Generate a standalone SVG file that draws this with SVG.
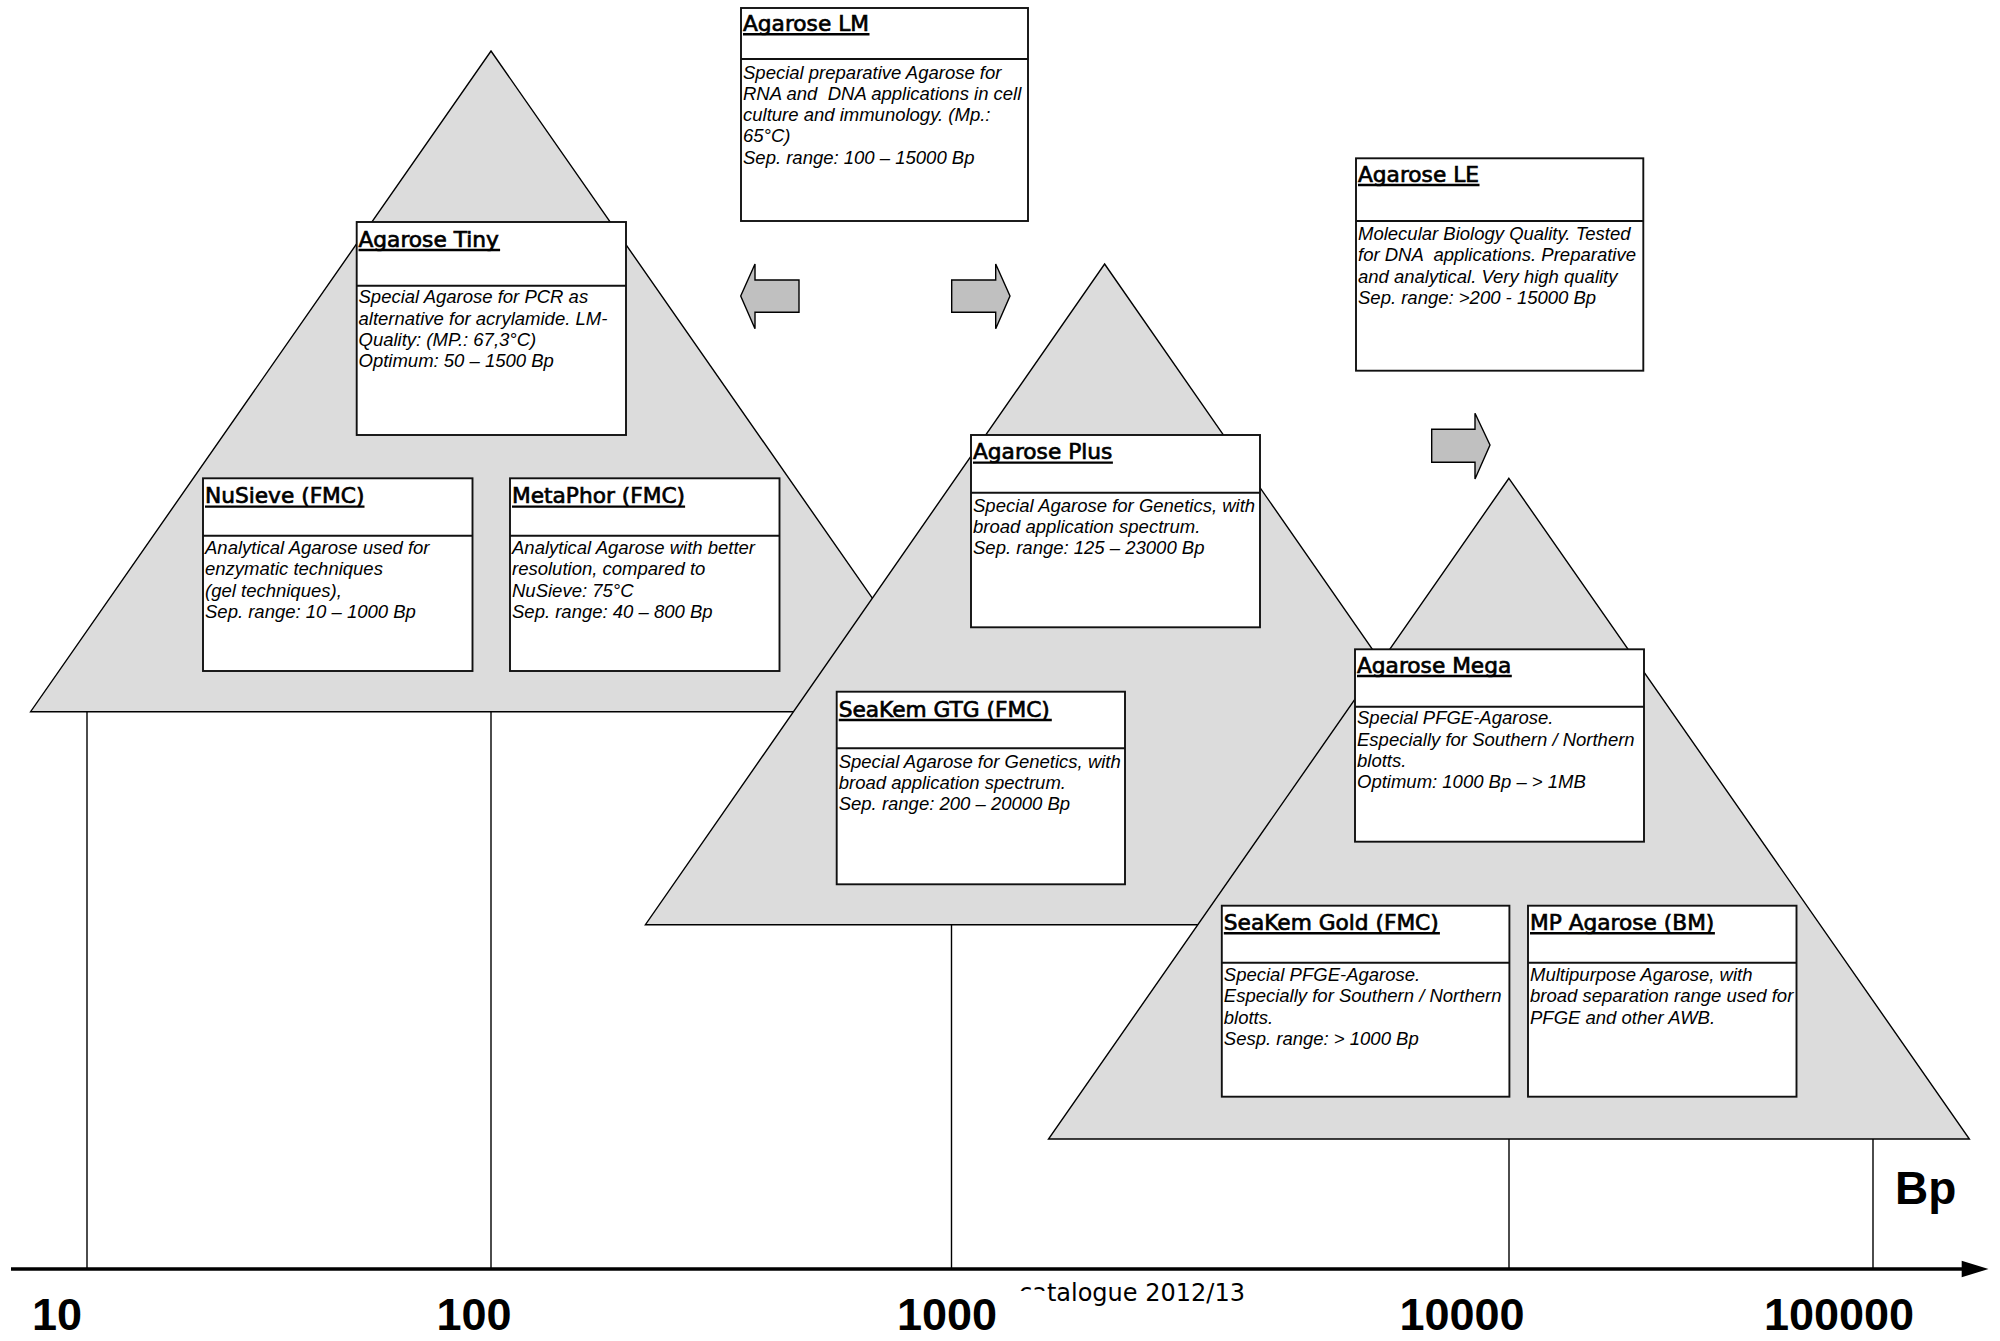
<svg xmlns="http://www.w3.org/2000/svg" width="2000" height="1341" viewBox="0 0 2000 1341">
<style>
.tri{fill:#dcdcdc;stroke:#000;stroke-width:1.4;stroke-linejoin:miter}
.box{fill:#fff;stroke:#111;stroke-width:1.9}
.div{stroke:#111;stroke-width:1.9}
.title{font-family:"DejaVu Sans",sans-serif;font-size:21.7px;fill:#000;stroke:#000;stroke-width:0.7}
.ul{stroke:#000;stroke-width:2.4}
.body{font-family:"Liberation Sans",Arial,sans-serif;font-style:italic;font-size:18.5px;fill:#000;white-space:pre}
.blk{fill:#c0c0c0;stroke:#000;stroke-width:1.4;stroke-linejoin:miter}
.tick{stroke:#000;stroke-width:1.4}
.axis{stroke:#000;stroke-width:3.6}
.lbl{font-family:"Liberation Sans",Arial,sans-serif;font-weight:bold;font-size:45px;fill:#000;text-anchor:middle}
.bp{font-family:"Liberation Sans",Arial,sans-serif;font-weight:bold;font-size:46px;fill:#000}
.foot{font-family:"DejaVu Sans",sans-serif;font-size:24px;fill:#000}
</style>
<rect width="2000" height="1341" fill="#fff"/>

<g id="triangles">
<polygon class="tri" points="491,51 951.5,711.7 30.6,711.7"/>
<polygon class="tri" points="1104.6,264 1563.8,924.7 645.4,924.7"/>
<polygon class="tri" points="1508.9,478.3 1969.4,1139 1048.5,1139"/>
</g>

<g id="connectors">
<line class="tick" x1="87" y1="711.7" x2="87" y2="1269"/>
<line class="tick" x1="491" y1="711.7" x2="491" y2="1269"/>
<line class="tick" x1="951.5" y1="924.7" x2="951.5" y2="1269"/>
<line class="tick" x1="1509" y1="1139" x2="1509" y2="1269"/>
<line class="tick" x1="1873" y1="1139" x2="1873" y2="1269"/>
<line class="axis" x1="11" y1="1269" x2="1963" y2="1269"/>
<polygon points="1961.7,1260.7 1988.5,1269 1961.7,1277.3" fill="#000"/>
</g>

<g id="block-arrows">
<polygon class="blk" points="740.7,296 755,264 755,280 799,280 799,312.3 755,312.3 755,328.7"/>
<polygon class="blk" points="1010,296 995.7,264 995.7,280 951.7,280 951.7,312.3 995.7,312.3 995.7,328.7"/>
<polygon class="blk" points="1490,445 1475,413.3 1475,429.3 1431.7,429.3 1431.7,462.3 1475,462.3 1475,479"/>
</g>

<g id="agarose-lm">
<rect class="box" x="741" y="8" width="287" height="213"/>
<line class="div" x1="741" y1="59" x2="1028" y2="59"/>
<text class="title" x="743" y="31">Agarose LM</text>
<line class="ul" x1="743" y1="34.3" x2="869.5" y2="34.3"/>
<text class="body" x="743" y="78.5" xml:space="preserve">Special preparative Agarose for</text>
<text class="body" x="743" y="99.8" xml:space="preserve">RNA and  DNA applications in cell</text>
<text class="body" x="743" y="121.1" xml:space="preserve">culture and immunology. (Mp.:</text>
<text class="body" x="743" y="142.4" xml:space="preserve">65°C)</text>
<text class="body" x="743" y="163.7" xml:space="preserve">Sep. range: 100 – 15000 Bp</text>
</g>

<g id="agarose-tiny">
<rect class="box" x="356.7" y="222" width="269.3" height="213"/>
<line class="div" x1="356.7" y1="285.7" x2="626" y2="285.7"/>
<text class="title" x="358.5" y="246.7">Agarose Tiny</text>
<line class="ul" x1="358.5" y1="250" x2="500.1" y2="250"/>
<text class="body" x="358.5" y="303.3" xml:space="preserve">Special Agarose for PCR as</text>
<text class="body" x="358.5" y="324.6" xml:space="preserve">alternative for acrylamide. LM-</text>
<text class="body" x="358.5" y="345.9" xml:space="preserve">Quality: (MP.: 67,3°C)</text>
<text class="body" x="358.5" y="367.2" xml:space="preserve">Optimum: 50 – 1500 Bp</text>
</g>

<g id="nusieve">
<rect class="box" x="203" y="478.3" width="269.5" height="192.7"/>
<line class="div" x1="203" y1="535.7" x2="472.5" y2="535.7"/>
<text class="title" x="205" y="503.3">NuSieve (FMC)</text>
<line class="ul" x1="205" y1="506.6" x2="364.5" y2="506.6"/>
<text class="body" x="205" y="554" xml:space="preserve">Analytical Agarose used for</text>
<text class="body" x="205" y="575.3" xml:space="preserve">enzymatic techniques</text>
<text class="body" x="205" y="596.6" xml:space="preserve">(gel techniques),</text>
<text class="body" x="205" y="617.9" xml:space="preserve">Sep. range: 10 – 1000 Bp</text>
</g>

<g id="metaphor">
<rect class="box" x="510" y="478.3" width="269.5" height="192.7"/>
<line class="div" x1="510" y1="535.7" x2="779.5" y2="535.7"/>
<text class="title" x="512" y="503.3">MetaPhor (FMC)</text>
<line class="ul" x1="512" y1="506.6" x2="685.1" y2="506.6"/>
<text class="body" x="512" y="554" xml:space="preserve">Analytical Agarose with better</text>
<text class="body" x="512" y="575.3" xml:space="preserve">resolution, compared to</text>
<text class="body" x="512" y="596.6" xml:space="preserve">NuSieve: 75°C</text>
<text class="body" x="512" y="617.9" xml:space="preserve">Sep. range: 40 – 800 Bp</text>
</g>

<g id="agarose-le">
<rect class="box" x="1356" y="158.3" width="287.3" height="212.4"/>
<line class="div" x1="1356" y1="221" x2="1643.3" y2="221"/>
<text class="title" x="1358" y="181.7">Agarose LE</text>
<line class="ul" x1="1358" y1="185" x2="1479.5" y2="185"/>
<text class="body" x="1358" y="240" xml:space="preserve">Molecular Biology Quality. Tested</text>
<text class="body" x="1358" y="261.3" xml:space="preserve">for DNA  applications. Preparative</text>
<text class="body" x="1358" y="282.6" xml:space="preserve">and analytical. Very high quality</text>
<text class="body" x="1358" y="303.9" xml:space="preserve">Sep. range: &gt;200 - 15000 Bp</text>
</g>

<g id="agarose-plus">
<rect class="box" x="971" y="435" width="289" height="192.3"/>
<line class="div" x1="971" y1="492.7" x2="1260" y2="492.7"/>
<text class="title" x="973" y="459.3">Agarose Plus</text>
<line class="ul" x1="973" y1="462.6" x2="1112.9" y2="462.6"/>
<text class="body" x="973" y="511.5" xml:space="preserve">Special Agarose for Genetics, with</text>
<text class="body" x="973" y="532.8" xml:space="preserve">broad application spectrum.</text>
<text class="body" x="973" y="554.1" xml:space="preserve">Sep. range: 125 – 23000 Bp</text>
</g>

<g id="seakem-gtg">
<rect class="box" x="836.7" y="691.7" width="288.3" height="192.6"/>
<line class="div" x1="836.7" y1="748.3" x2="1125" y2="748.3"/>
<text class="title" x="838.7" y="716.7">SeaKem GTG (FMC)</text>
<line class="ul" x1="838.7" y1="720" x2="1051.8" y2="720"/>
<text class="body" x="838.7" y="767.7" xml:space="preserve">Special Agarose for Genetics, with</text>
<text class="body" x="838.7" y="789" xml:space="preserve">broad application spectrum.</text>
<text class="body" x="838.7" y="810.3" xml:space="preserve">Sep. range: 200 – 20000 Bp</text>
</g>

<g id="agarose-mega">
<rect class="box" x="1355" y="649.3" width="289" height="192.4"/>
<line class="div" x1="1355" y1="706.7" x2="1644" y2="706.7"/>
<text class="title" x="1357" y="672.7">Agarose Mega</text>
<line class="ul" x1="1357" y1="676" x2="1511.8" y2="676"/>
<text class="body" x="1357" y="724.3" xml:space="preserve">Special PFGE-Agarose.</text>
<text class="body" x="1357" y="745.6" xml:space="preserve">Especially for Southern / Northern</text>
<text class="body" x="1357" y="766.9" xml:space="preserve">blotts.</text>
<text class="body" x="1357" y="788.2" xml:space="preserve">Optimum: 1000 Bp – &gt; 1MB</text>
</g>

<g id="seakem-gold">
<rect class="box" x="1221.8" y="905.7" width="287.6" height="191"/>
<line class="div" x1="1221.8" y1="962.7" x2="1509.4" y2="962.7"/>
<text class="title" x="1223.8" y="930">SeaKem Gold (FMC)</text>
<line class="ul" x1="1223.8" y1="933.3" x2="1439.9" y2="933.3"/>
<text class="body" x="1223.8" y="981" xml:space="preserve">Special PFGE-Agarose.</text>
<text class="body" x="1223.8" y="1002.3" xml:space="preserve">Especially for Southern / Northern</text>
<text class="body" x="1223.8" y="1023.6" xml:space="preserve">blotts.</text>
<text class="body" x="1223.8" y="1044.9" xml:space="preserve">Sesp. range: &gt; 1000 Bp</text>
</g>

<g id="mp-agarose">
<rect class="box" x="1528" y="905.7" width="268.5" height="191"/>
<line class="div" x1="1528" y1="962.7" x2="1796.5" y2="962.7"/>
<text class="title" x="1530" y="930">MP Agarose (BM)</text>
<line class="ul" x1="1530" y1="933.3" x2="1714.9" y2="933.3"/>
<text class="body" x="1530" y="981" xml:space="preserve">Multipurpose Agarose, with</text>
<text class="body" x="1530" y="1002.3" xml:space="preserve">broad separation range used for</text>
<text class="body" x="1530" y="1023.6" xml:space="preserve">PFGE and other AWB.</text>
</g>

<g id="labels">
<text class="foot" x="1019" y="1301">catalogue 2012/13</text>
<rect x="880" y="1291" width="167" height="50" fill="#fff"/>
<text class="lbl" x="57" y="1330">10</text>
<text class="lbl" x="474" y="1330">100</text>
<text class="lbl" x="947" y="1330">1000</text>
<text class="lbl" x="1462" y="1330">10000</text>
<text class="lbl" x="1839" y="1330">100000</text>
<text class="bp" x="1895" y="1204">Bp</text>
</g>
</svg>
